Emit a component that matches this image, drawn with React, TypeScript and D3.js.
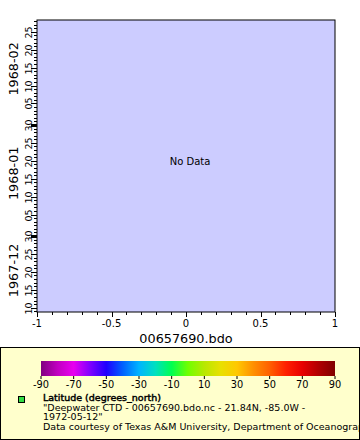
import * as d3 from "d3";

// plot extent (time axis runs upward)
const timeStart = new Date(Date.UTC(1967, 11, 8, 19));
const timeEnd = new Date(Date.UTC(1968, 1, 28, 7));
const monthLabels = ["1967-12", "1968-01", "1968-02"];
const xTicks = [-1, -0.5, 0, 0.5, 1];
const xTitle = "00657690.bdo";
const colorTicks = [-90, -70, -50, -30, -10, 10, 30, 50, 70, 90];
const colorStops = [
  "#800080", "#c000c0", "#e800f0", "#8000ff", "#2000ff", "#0060ff", "#00b4ff",
  "#00e0c0", "#00ff50", "#70ff00", "#b8e800", "#e8e000", "#ffc800", "#ff9000",
  "#ff6000", "#ff2000", "#e80000", "#b00000", "#800000",
];
const legendTitle = "Latitude (degrees_north)";
const legendLines = [
  '"Deepwater CTD - 00657690.bdo.nc - 21.84N, -85.0W -',
  '1972-05-12"',
  "Data courtesy of Texas A&M University, Department of Oceanography",
];

const W = 360;
const H = 440;
const m = { left: 37, right: 335, top: 20, bottom: 312 };
const font = "DejaVu Sans";

export default function App() {
  const x = d3.scaleLinear().domain([-1, 1]).range([m.left, m.right]);
  const y = d3.scaleUtc().domain([timeStart, timeEnd]).range([m.bottom, m.top]);
  const days = d3.utcDay.range(timeStart, timeEnd);
  const minorX = d3.range(-10, 11).map((d) => d / 10);
  const cx = d3.scaleLinear().domain([-90, 90]).range([41, 335]);
  const stopScale = d3.scaleLinear().domain([0, colorStops.length - 1]).range([0, 100]);

  const months = monthLabels.map((lab) => {
    const [yr, mo] = lab.split("-").map(Number);
    const a = new Date(Date.UTC(yr, mo - 1, 1));
    const b = new Date(Date.UTC(yr, mo, 1));
    const y0 = Math.min(m.bottom, y(a));
    const y1 = Math.max(m.top, y(b));
    return { lab, mid: (y0 + y1) / 2 };
  });

  return (
    <svg
      width={W}
      height={H}
      style={{ position: "absolute", left: 0, top: 0, fontFamily: font }}
    >
      <defs>
        <linearGradient id="pal" x1="0" x2="1" y1="0" y2="0">
          {colorStops.map((c, i) => (
            <stop key={i} offset={`${stopScale(i)}%`} stopColor={c} />
          ))}
        </linearGradient>
      </defs>
      <rect x={0} y={0} width={W} height={H} fill="#fff" />
      <rect
        x={m.left}
        y={m.top}
        width={m.right - m.left}
        height={m.bottom - m.top}
        fill="#ccccff"
        stroke="#000"
        strokeWidth={1}
      />
      <text x={190} y={165} fontSize={10} textAnchor="middle">
        No Data
      </text>

      {/* y axis: daily ticks */}
      {days.map((d, i) => {
        const day = d.getUTCDate();
        const major = day % 5 === 0;
        const yy = Math.round(y(d)) + 0.5;
        return (
          <g key={i}>
            <line
              x1={m.left}
              x2={m.left - (major ? 6 : 3)}
              y1={yy}
              y2={yy}
              stroke="#000"
            />
            {day === 30 && (
              <rect x={m.left - 6} y={yy - 1.5} width={6} height={3} fill="#000" />
            )}
            {major && (
              <text
                transform={`translate(32,${yy}) rotate(-90)`}
                fontSize={9.5}
                textAnchor="middle"
              >
                {d3.utcFormat("%d")(d)}
              </text>
            )}
          </g>
        );
      })}
      {months.map((mo) => (
        <text
          key={mo.lab}
          transform={`translate(18,${mo.mid}) rotate(-90)`}
          fontSize={12.8}
          textAnchor="middle"
        >
          {mo.lab}
        </text>
      ))}

      {/* x axis */}
      {minorX.map((v, i) => {
        const major = xTicks.includes(v);
        const xx = Math.round(x(v)) + 0.5;
        return (
          <line
            key={i}
            x1={xx}
            x2={xx}
            y1={m.bottom}
            y2={m.bottom + (major ? 5 : 3)}
            stroke="#000"
          />
        );
      })}
      {xTicks.map((v) => (
        <text key={v} x={x(v)} y={327} fontSize={10} textAnchor="middle">
          {v}
        </text>
      ))}
      <text x={186} y={343} fontSize={12.8} textAnchor="middle">
        {xTitle}
      </text>

      {/* legend */}
      <rect x={0.5} y={347.5} width={W - 1} height={H - 348} fill="#ffffcc" stroke="#000" />
      <rect x={cx(-90)} y={361} width={cx(90) - cx(-90)} height={15} fill="url(#pal)" />
      {colorTicks.map((v) => (
        <g key={v}>
          <line x1={cx(v)} x2={cx(v)} y1={376} y2={379} stroke="#000" />
          <text x={cx(v)} y={388} fontSize={9.8} textAnchor="middle">
            {v}
          </text>
        </g>
      ))}
      <rect x={18.5} y={396.5} width={6} height={6} fill="#33dd44" stroke="#000" />
      <text x={43} y={401} fontSize={9.5} stroke="#000" strokeWidth={0.45}>
        {legendTitle}
      </text>
      {legendLines.map((t, i) => (
        <text key={i} x={43} y={410.5 + i * 9.5} fontSize={9.5}>
          {t}
        </text>
      ))}
    </svg>
  );
}
